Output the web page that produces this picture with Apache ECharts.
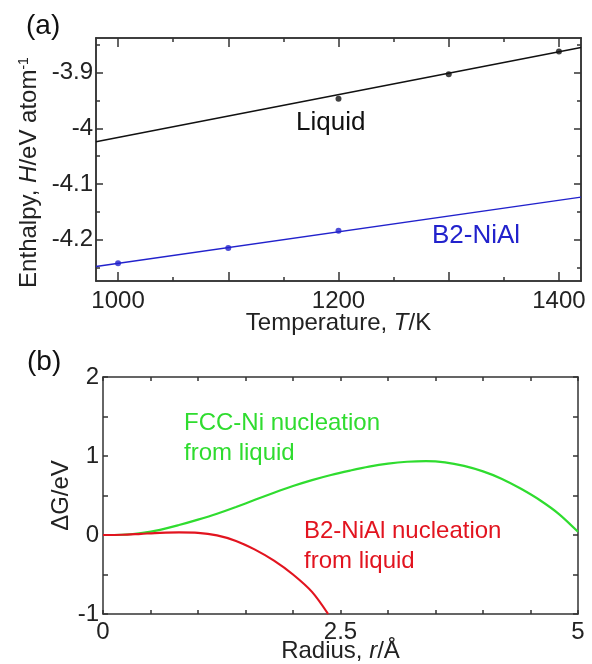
<!DOCTYPE html>
<html>
<head>
<meta charset="utf-8">
<script src="https://cdn.jsdelivr.net/npm/echarts@6/dist/echarts.min.js"></script>
<style>
  html, body { margin: 0; padding: 0; background: #fff; }
  #chart { width: 592px; height: 664px; }
</style>
</head>
<body>
<div id="chart"></div>
<script>
// (a) enthalpy vs temperature
const tempTicks = [1000, 1100, 1200, 1300, 1400]
const tempMinorTicks = [1050, 1150, 1250, 1350]
const tempLabels = [1000, 1200, 1400]
const enthTicks = [-4.2, -4.1, -4, -3.9]
const enthMinorTicks = [-4.25, -4.15, -4.05, -3.95, -3.85]

const liquidT = [1200, 1300, 1400]
const liquidH = [-3.947, -3.903, -3.862]
const b2T = [1000, 1100, 1200]
const b2H = [-4.242, -4.215, -4.184]
const fitT = [980, 1420]
const liquidFitH = [-4.024, -3.855]
const b2FitH = [-4.248, -4.1235]

// (b) free energy vs radius
const fccR = [0, 0.2, 0.4, 0.6, 0.8, 1.0, 1.2, 1.4, 1.6, 1.8, 2.0, 2.2, 2.4, 2.6, 2.8, 3.0, 3.2, 3.4, 3.6, 3.8, 4.0, 4.2, 4.4, 4.6, 4.8, 5.0]
const fccG = [0, 0.003, 0.025, 0.065, 0.126, 0.195, 0.27, 0.355, 0.445, 0.535, 0.62, 0.695, 0.76, 0.815, 0.865, 0.903, 0.927, 0.935, 0.92, 0.875, 0.805, 0.71, 0.585, 0.44, 0.265, 0.04]
const b2R = [0, 0.2, 0.4, 0.6, 0.8, 1.0, 1.2, 1.4, 1.6, 1.8, 2.0, 2.2, 2.37]
const b2G = [0, 0.003, 0.015, 0.027, 0.033, 0.028, -0.005, -0.075, -0.185, -0.325, -0.5, -0.72, -1.0]
const radiusTicks = [0, 0.5, 1, 1.5, 2, 2.5, 3, 3.5, 4, 4.5, 5]
const radiusLabels = [0, 2.5, 5]
const dGTicks = [-1, -0.5, 0, 0.5, 1, 1.5, 2]
const dGLabels = [-1, 0, 1, 2]

const font = 'Liberation Sans, Arial, sans-serif'
const axisColor = '#333'
const textColor = '#222'

const zip = (xs, ys) => xs.map((x, i) => [x, ys[i]])

// one side of the frame; extra copies carry the minor ticks
function axis(gridIndex, position, min, max, ticks, tickLen, labels, extra) {
  return Object.assign({
    type: 'value',
    gridIndex: gridIndex,
    position: position,
    min: min,
    max: max,
    nameMoveOverlap: false,
    splitLine: { show: false },
    axisLine: { show: true, onZero: false, lineStyle: { color: axisColor, width: 1.5 } },
    axisTick: { show: true, inside: true, length: tickLen, customValues: ticks, lineStyle: { color: axisColor, width: 1.5 } },
    axisLabel: labels ? {
      show: true,
      customValues: labels,
      fontSize: 24,
      fontFamily: font,
      color: textColor,
      margin: 4,
      formatter: v => String(v)
    } : { show: false }
  }, extra || {})
}

const nameStyle = {
  fontSize: 24,
  fontFamily: font,
  color: textColor,
  rich: {
    i: { fontSize: 24, fontFamily: font, fontStyle: 'italic', color: textColor },
    s: { fontSize: 14, fontFamily: font, color: textColor, verticalAlign: 'top' }
  }
}

const xAxes = [
  axis(0, 'bottom', 980, 1420, tempTicks, 9, tempLabels, {
    name: 'Temperature, {i|T}/K', nameLocation: 'middle', nameGap: 30, nameTextStyle: nameStyle
  }),
  axis(0, 'top', 980, 1420, tempTicks, 9),
  axis(0, 'bottom', 980, 1420, tempMinorTicks, 4),
  axis(0, 'top', 980, 1420, tempMinorTicks, 4),
  axis(1, 'bottom', 0, 5, radiusTicks, 4, radiusLabels, {
    name: 'Radius, {i|r}/Å', nameLocation: 'middle', nameGap: 25, nameTextStyle: nameStyle
  }),
  axis(1, 'top', 0, 5, radiusTicks, 4)
]
xAxes[0].axisLabel.margin = 8
xAxes[4].axisLabel.margin = 6

const yAxes = [
  axis(0, 'left', -4.274, -3.838, enthTicks, 7, enthTicks, {
    name: 'Enthalpy, {i|H}/eV atom{s|-1}', nameLocation: 'middle', nameGap: 55,
    nameTextStyle: Object.assign({}, nameStyle, { padding: [0, 26, 0, 0] })
  }),
  axis(0, 'right', -4.274, -3.838, enthTicks, 7),
  axis(0, 'left', -4.274, -3.838, enthMinorTicks, 4),
  axis(0, 'right', -4.274, -3.838, enthMinorTicks, 4),
  axis(1, 'left', -1, 2, dGTicks, 5, dGLabels, {
    name: 'ΔG/eV', nameLocation: 'middle', nameGap: 30, nameTextStyle: nameStyle
  }),
  axis(1, 'right', -1, 2, dGTicks, 5)
]
yAxes[0].axisLabel.margin = 3
yAxes[0].axisLabel.padding = [6, 0, 0, 0]
yAxes[4].axisLabel.margin = 4
yAxes[4].axisLabel.padding = [8, 0, 0, 0]

function text(str, x, y, color, size, extra) {
  return {
    type: 'text',
    x: x,
    y: y,
    style: Object.assign({
      text: str,
      fill: color,
      font: size + 'px ' + font,
      textVerticalAlign: 'top'
    }, extra || {})
  }
}

const chart = echarts.init(document.getElementById('chart'), null, { renderer: 'canvas' })
chart.setOption({
  backgroundColor: '#fff',
  animation: false,
  grid: [
    { left: 96, top: 38, right: 11, bottom: 383, outerBoundsMode: 'none' },
    { left: 103, top: 377, right: 14, bottom: 50, outerBoundsMode: 'none' }
  ],
  xAxis: xAxes,
  yAxis: yAxes,
  graphic: [
    text('(a)', 26, 12, '#111', 28),
    text('(b)', 27, 348, '#111', 28),
    text('Liquid', 296, 110, '#111', 26),
    text('B2-NiAl', 432, 223, '#2222cc', 26),
    text('FCC-Ni nucleation\nfrom liquid', 184, 408, '#2fdc2f', 24, { lineHeight: 30 }),
    text('B2-NiAl nucleation\nfrom liquid', 304, 516, '#e2141f', 24, { lineHeight: 30 })
  ],
  series: [
    {
      name: 'Liquid fit', type: 'line', xAxisIndex: 0, yAxisIndex: 0,
      data: zip(fitT, liquidFitH), symbol: 'none',
      lineStyle: { color: '#111', width: 1.5 }
    },
    {
      name: 'Liquid', type: 'scatter', xAxisIndex: 0, yAxisIndex: 0,
      data: zip(liquidT, liquidH), symbolSize: 6,
      itemStyle: { color: '#111' }
    },
    {
      name: 'B2-NiAl fit', type: 'line', xAxisIndex: 0, yAxisIndex: 0,
      data: zip(fitT, b2FitH), symbol: 'none',
      lineStyle: { color: '#2222cc', width: 1.5 }
    },
    {
      name: 'B2-NiAl', type: 'scatter', xAxisIndex: 0, yAxisIndex: 0,
      data: zip(b2T, b2H), symbolSize: 6,
      itemStyle: { color: '#2222cc' }
    },
    {
      name: 'FCC-Ni', type: 'line', xAxisIndex: 4, yAxisIndex: 4,
      data: zip(fccR, fccG), symbol: 'none', smooth: 0.3,
      lineStyle: { color: '#2fdc2f', width: 2.2 }
    },
    {
      name: 'B2-NiAl nucleation', type: 'line', xAxisIndex: 4, yAxisIndex: 4,
      data: zip(b2R, b2G), symbol: 'none', smooth: 0.3,
      lineStyle: { color: '#e2141f', width: 2.2 }
    }
  ]
})
</script>
</body>
</html>
